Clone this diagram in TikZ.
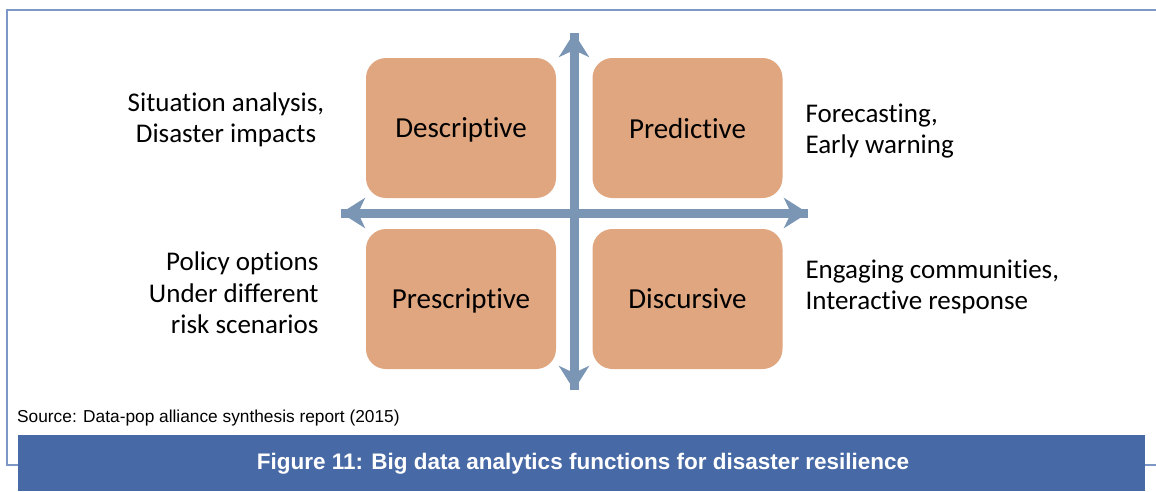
\documentclass[tikz,border=0pt]{standalone}
\usepackage{fontspec}
\setmainfont{Carlito}[Ligatures=CommonOff]
\newfontfamily\arialfont{Liberation Sans}
\usetikzlibrary{arrows.meta}

\definecolor{boxfill}{HTML}{DFA680}
\definecolor{axisblue}{HTML}{7A96B4}
\definecolor{barblue}{HTML}{4769A5}
\definecolor{frameblue}{HTML}{7D98C6}

\begin{document}
\begin{tikzpicture}[x=1pt, y=-1pt,
	func/.style = {fill=boxfill, rounded corners=20pt, minimum width=190pt, minimum height=140pt, text depth=0pt, font=\fontsize{29}{32}\selectfont},
	side/.style = {font=\fontsize{27}{31.5}\selectfont},
	axis/.style = {axisblue, line width=9pt, -{Stealth[length=24pt, width=30pt, inset=7pt]}}]
	\useasboundingbox (0,0) rectangle (1156,491);
	% frame and caption bar
	\draw[frameblue, line width=1.5pt] (1156,10) -- (7,10) -- (7,465) -- (18,465);
	\draw[frameblue, line width=1.5pt] (1145,465) -- (1156,465);
	\fill[barblue] (18,435) rectangle (1145,491);
	\node[text=white, font=\arialfont\bfseries\fontsize{22.5}{26}\selectfont] (title) at (583,464) {Figure 11: Big data analytics functions for disaster resilience};
	\node[anchor=west, font=\arialfont\fontsize{17.3}{19}\selectfont, inner sep=0pt] (source) at (17,418) {Source: Data-pop alliance synthesis report (2015)};
	% four quadrants
	\node[func] (desc) at (461,128) {Descriptive};
	\node[func] (pred) at (687.5,128) {Predictive};
	\node[func] (presc) at (461,299) {Prescriptive};
	\node[func] (disc) at (687.5,299) {Discursive};
	% axes
	\coordinate (top) at (574,33);
	\coordinate (bottom) at (574,390);
	\coordinate (left) at (341,213);
	\coordinate (right) at (808,213);
	\draw[axis] (bottom) -- (top);
	\draw[axis] (top) -- (bottom);
	\draw[axis] (right) -- (left);
	\draw[axis] (left) -- (right);
	% side labels
	\node[side, align=center] (descnote) at (226,120) {Situation analysis,\\Disaster impacts};
	\node[side, anchor=west, align=left] (prednote) at (802,131) {Forecasting,\\Early warning};
	\node[side, anchor=east, align=right] (prescnote) at (322,293) {Policy options\\Under different\\risk scenarios};
	\node[side, anchor=west, align=left] (discnote) at (802,287) {Engaging communities,\\Interactive response};
\end{tikzpicture}
\end{document}
